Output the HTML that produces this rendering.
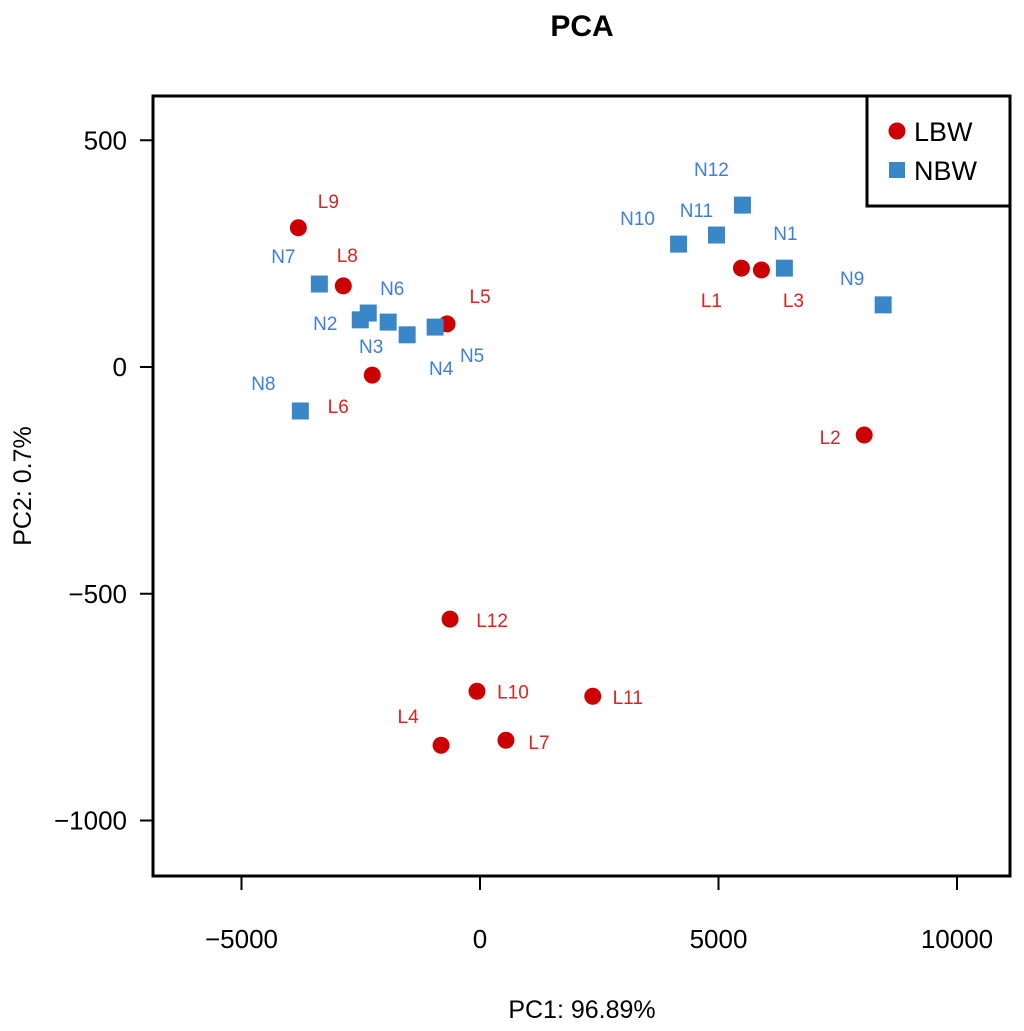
<!DOCTYPE html>
<html><head><meta charset="utf-8"><style>
html,body{margin:0;padding:0;background:#fff;}
svg{display:block;font-family:"Liberation Sans",Arial,sans-serif;}
</style></head><body>
<svg id="chart" width="1024" height="1031" viewBox="0 0 1024 1031">
<text x="582" y="36" text-anchor="middle" font-size="30" font-weight="bold">PCA</text>
<rect x="153" y="96" width="857" height="780" fill="none" stroke="#000" stroke-width="3"/>
<g id="xaxis"></g>
<g id="yaxis"></g>
<text x="582" y="1018" text-anchor="middle" font-size="25">PC1: 96.89%</text>
<text x="0" y="0" transform="translate(31,486) rotate(-90)" text-anchor="middle" font-size="25">PC2: 0.7%</text>
<g id="points"></g>
<g>
<rect x="867" y="96" width="143" height="110" fill="#fff" stroke="#000" stroke-width="3"/>
<circle cx="897" cy="131" r="8.5" fill="#cc0000"/>
<text x="914" y="141" font-size="27">LBW</text>
<rect x="889" y="162" width="16" height="16" fill="#3a87c8"/>
<text x="914" y="180" font-size="27">NBW</text>
</g>
</svg>
<script>
const names = ["L9","L8","L5","L6","L1","L3","L2","L12","L10","L11","L4","L7","N7","N6","N2","N3","N4","N5","N8","N10","N11","N12","N1","N9"];
const groups = ["LBW","LBW","LBW","LBW","LBW","LBW","LBW","LBW","LBW","LBW","LBW","LBW","NBW","NBW","NBW","NBW","NBW","NBW","NBW","NBW","NBW","NBW","NBW","NBW"];
const pc1 = [-3808,-2866,-690,-2259,5481,5900,8054,-628,-63,2364,-816,544,-3368,-2343,-2510,-1925,-1527,-941,-3766,4163,4958,5502,6381,8452];
const pc2 = [307,179,95,-18,218,214,-150,-556,-715,-726,-834,-823,183,119,104,99,71,88,-97,271,291,357,218,137];
const labelDx = [30,4,33,-34,-30,32,-34,42,36,35,-33,33,-36,24,-35,-17,34,37,-37,-41,-20,-31,1,-31];
const labelDy = [-27,-31,-28,31,32,30,2,1,0,1,-29,2,-28,-25,3,24,33,28,-28,-26,-25,-36,-35,-27];
const xTicks = [-5000,0,5000,10000];
const yTicks = [500,0,-500,-1000];

const NS="http://www.w3.org/2000/svg";
function X(v){return 480 + (v)*(477/10000);}
function Y(v){return 367 - v*(453.5/1000);}
function mk(t,a,p){const e=document.createElementNS(NS,t);for(const k in a)e.setAttribute(k,a[k]);p.appendChild(e);return e;}
const xa=document.getElementById('xaxis'), ya=document.getElementById('yaxis'), pg=document.getElementById('points');
xTicks.forEach(t=>{
  const l=mk('line',{x1:X(t),x2:X(t),y1:877,y2:890,stroke:'#000','stroke-width':2},xa);
  
  
  const s=mk('text',{x:X(t),y:948,'text-anchor':'middle','font-size':26},xa);
  s.textContent=t===0?'0':(t<0?'\u2212'+(-t):String(t));
  
  
});
yTicks.forEach(t=>{
  const l=mk('line',{x1:140,x2:153,y1:Y(t),y2:Y(t),stroke:'#000','stroke-width':2},ya);
  
  
  const s=mk('text',{x:127,y:Y(t)+9,'text-anchor':'end','font-size':26},ya);
  s.textContent=t===0?'0':(t<0?'\u2212'+(-t):String(t));
  
  
});
names.forEach((n,i)=>{
  const cx=X(pc1[i]), cy=Y(pc2[i]);
  let m;
  if(groups[i]==='LBW'){ m=mk('circle',{cx:cx,cy:cy,r:8.5,fill:'#cc0000'},pg); }
  else { m=mk('rect',{x:cx-8.5,y:cy-8.5,width:17,height:17,fill:'#3a87c8'},pg); }
  
  
  const t=mk('text',{x:cx+labelDx[i],y:cy+labelDy[i]+7,'text-anchor':'middle','font-size':19,fill:groups[i]==='LBW'?'#dd2222':'#3f7fd6'},pg);
  t.textContent=n;
  
  
});
</script>
</body></html>
